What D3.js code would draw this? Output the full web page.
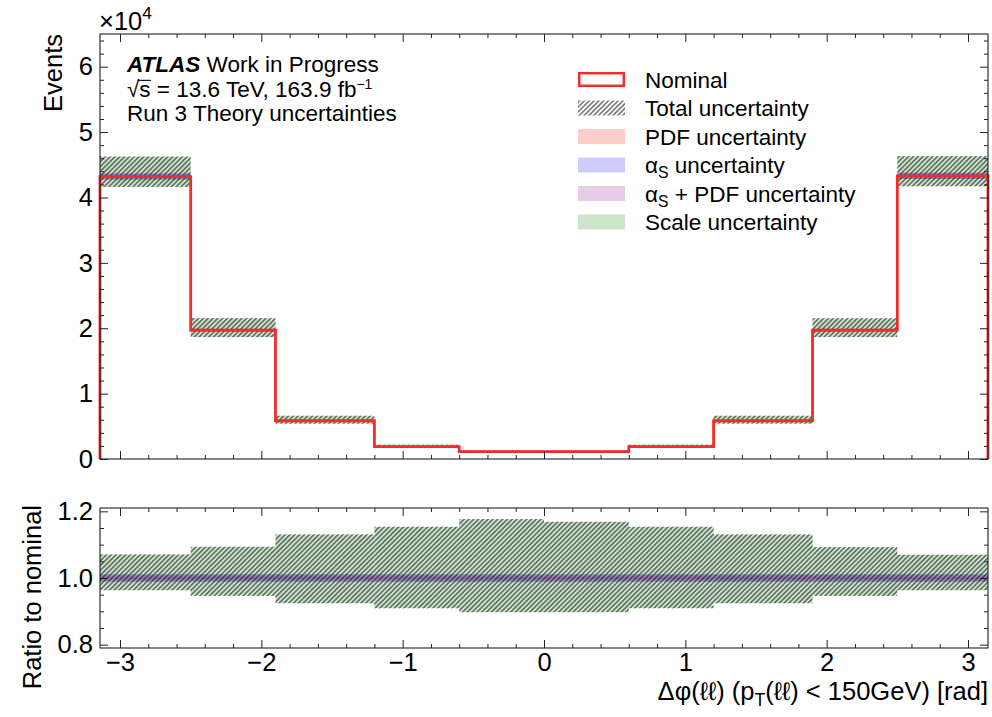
<!DOCTYPE html>
<html>
<head>
<meta charset="utf-8">
<script src="https://cdn.jsdelivr.net/npm/d3@7"></script>
<style>
  body { margin: 0; background: #fff; }
  svg { display: block; }
  text { font-family: "Liberation Sans", Arial, Helvetica, sans-serif; fill: #000; }
</style>
</head>
<body>
<svg id="chart" width="992" height="717"></svg>
<script>
// Δφ(ℓℓ) bin edges [rad]
const binEdges = [-Math.PI, -2.5, -1.9, -1.2, -0.6, 0, 0.6, 1.2, 1.9, 2.5, Math.PI];
// Nominal prediction, events per bin
const nominal = [43200, 19700, 5850, 1900, 1120, 1120, 1900, 5850, 19700, 43300];
// Relative variations (ratio to nominal)
const scaleUp    = [1.070, 1.093, 1.130, 1.153, 1.176, 1.168, 1.153, 1.130, 1.092, 1.069];
const scaleDown  = [0.964, 0.947, 0.925, 0.910, 0.898, 0.898, 0.910, 0.925, 0.947, 0.964];
const totalUp    = [1.071, 1.094, 1.131, 1.154, 1.177, 1.169, 1.154, 1.131, 1.093, 1.070];
const totalDown  = [0.963, 0.946, 0.924, 0.909, 0.897, 0.897, 0.909, 0.924, 0.946, 0.963];
const pdfUp      = [1.004, 1.004, 1.004, 1.004, 1.004, 1.004, 1.004, 1.004, 1.004, 1.004];
const pdfDown    = [0.996, 0.996, 0.996, 0.996, 0.996, 0.996, 0.996, 0.996, 0.996, 0.996];
const alphaSUp   = [1.011, 1.011, 1.011, 1.011, 1.011, 1.011, 1.011, 1.011, 1.011, 1.011];
const alphaSDown = [0.989, 0.989, 0.989, 0.989, 0.989, 0.989, 0.989, 0.989, 0.989, 0.989];
const alphaSPdfUp   = [1.011, 1.011, 1.011, 1.011, 1.011, 1.011, 1.011, 1.011, 1.011, 1.011];
const alphaSPdfDown = [0.989, 0.989, 0.989, 0.989, 0.989, 0.989, 0.989, 0.989, 0.989, 0.989];

const xTickValues = [-3, -2, -1, 0, 1, 2, 3];
const yMainTicks = [0, 10000, 20000, 30000, 40000, 50000, 60000];
const yRatioTicks = [0.8, 1.0, 1.2];
const legendLabels = ["Nominal", "Total uncertainty", "PDF uncertainty", "αS uncertainty", "αS + PDF uncertainty", "Scale uncertainty"];

const colors = {
  nominal: "#f22b2b",
  scale: "rgba(0,128,0,0.2)",
  pdf: "rgba(255,0,0,0.2)",
  alphaS: "rgba(0,0,255,0.2)",
  alphaSPdf: "rgba(128,0,128,0.2)",
  frame: "#222"
};

const svg = d3.select("#chart");
const FS = 22.5;      // legend / label block
const FS_AX = 25.5;   // tick labels and axis titles

// Panel geometry
const left = 100, right = 988;
const mainTop = 34, mainBottom = 459;
const ratTop = 508, ratBottom = 648;

const x = d3.scaleLinear().domain([-Math.PI, Math.PI]).range([left, right]);
const yMain = d3.scaleLinear().domain([0, 65000]).range([mainBottom, mainTop]);
const yRat = d3.scaleLinear().domain([0.79, 1.21]).range([ratBottom, ratTop]);

// Hatch pattern for total uncertainty
const defs = svg.append("defs");
const pat = defs.append("pattern")
  .attr("id", "hatch")
  .attr("patternUnits", "userSpaceOnUse")
  .attr("width", 3.4).attr("height", 3.4)
  .attr("patternTransform", "rotate(45)");
pat.append("line")
  .attr("x1", 1.7).attr("y1", -1).attr("x2", 1.7).attr("y2", 5)
  .attr("stroke", "rgba(0,0,0,0.66)").attr("stroke-width", 1.3);

const bins = nominal.map((n, i) => ({ i, x0: binEdges[i], x1: binEdges[i + 1], n }));

function bandRects(g, y, upArr, dnArr, scaleByNominal, fill) {
  const k = d => (scaleByNominal ? d.n : 1);
  g.selectAll(null).data(bins).join("rect")
    .attr("x", d => x(d.x0))
    .attr("width", d => x(d.x1) - x(d.x0))
    .attr("y", d => y(k(d) * upArr[d.i]))
    .attr("height", d => y(k(d) * dnArr[d.i]) - y(k(d) * upArr[d.i]))
    .attr("fill", fill);
}

function drawBands(g, y, byNominal) {
  bandRects(g, y, scaleUp, scaleDown, byNominal, colors.scale);
  bandRects(g, y, pdfUp, pdfDown, byNominal, colors.pdf);
  bandRects(g, y, alphaSPdfUp, alphaSPdfDown, byNominal, colors.alphaSPdf);
  bandRects(g, y, alphaSUp, alphaSDown, byNominal, colors.alphaS);
  bandRects(g, y, totalUp, totalDown, byNominal, "url(#hatch)");
}

// ---------- main panel ----------
const gMain = svg.append("g");
drawBands(gMain, yMain, true);

// Nominal step histogram
const stepPts = [[binEdges[0], 0]];
bins.forEach(b => { stepPts.push([b.x0, b.n]); stepPts.push([b.x1, b.n]); });
stepPts.push([binEdges[binEdges.length - 1], 0]);
gMain.append("path")
  .attr("d", d3.line().x(d => x(d[0])).y(d => yMain(d[1]))(stepPts))
  .attr("fill", "none")
  .attr("stroke", colors.nominal)
  .attr("stroke-width", 2.8)
  .attr("stroke-linejoin", "miter");

// ---------- ratio panel ----------
const gRat = svg.append("g");
drawBands(gRat, yRat, false);

// ---------- axes ----------
const MAJ = 8, MIN = 4;
function minorRange(lo, hi, step, majors) {
  const out = [];
  for (let k = Math.ceil(lo / step - 1e-9); k * step <= hi + 1e-9; k++) {
    const v = +(k * step).toFixed(6);
    if (!majors.some(m => Math.abs(m - v) < 1e-9)) out.push(v);
  }
  return out;
}
const xMinor = minorRange(-Math.PI, Math.PI, 0.2, xTickValues);
const yMainMinor = minorRange(0, 65000, 2000, yMainTicks);
const yRatMinor = minorRange(0.79, 1.21, 0.05, yRatioTicks);

function styleAxis(g) {
  g.select(".domain").remove();
  g.selectAll(".tick line").attr("stroke", colors.frame).attr("stroke-width", 1);
  g.selectAll(".tick text").attr("font-size", FS_AX).attr("font-family", "Liberation Sans, Arial, sans-serif").attr("fill", "#000");
}

function panelAxes(yScale, top, bottom, yTicks, yMinor, yFmt, showX) {
  const add = (tr, axis) => styleAxis(svg.append("g").attr("transform", tr).call(axis));
  const none = () => "";
  add(`translate(0,${bottom})`, d3.axisBottom(x).tickValues(xTickValues).tickSizeInner(-MAJ).tickSizeOuter(0)
    .tickPadding(showX ? 5 : 0).tickFormat(showX ? d3.format("d") : none));
  add(`translate(0,${bottom})`, d3.axisBottom(x).tickValues(xMinor).tickSizeInner(-MIN).tickSizeOuter(0).tickFormat(none));
  add(`translate(0,${top})`, d3.axisTop(x).tickValues(xTickValues).tickSizeInner(-MAJ).tickSizeOuter(0).tickFormat(none));
  add(`translate(0,${top})`, d3.axisTop(x).tickValues(xMinor).tickSizeInner(-MIN).tickSizeOuter(0).tickFormat(none));
  add(`translate(${left},0)`, d3.axisLeft(yScale).tickValues(yTicks).tickSizeInner(-MAJ).tickSizeOuter(0).tickPadding(7).tickFormat(yFmt));
  add(`translate(${left},0)`, d3.axisLeft(yScale).tickValues(yMinor).tickSizeInner(-MIN).tickSizeOuter(0).tickFormat(none));
  add(`translate(${right},0)`, d3.axisRight(yScale).tickValues(yTicks).tickSizeInner(-MAJ).tickSizeOuter(0).tickFormat(none));
  add(`translate(${right},0)`, d3.axisRight(yScale).tickValues(yMinor).tickSizeInner(-MIN).tickSizeOuter(0).tickFormat(none));
  svg.append("rect").attr("x", left).attr("y", top).attr("width", right - left).attr("height", bottom - top)
    .attr("fill", "none").attr("stroke", colors.frame).attr("stroke-width", 1.1);
}

panelAxes(yMain, mainTop, mainBottom, yMainTicks, yMainMinor, d => d3.format("d")(d / 10000), false);
panelAxes(yRat, ratTop, ratBottom, yRatioTicks, yRatMinor, d3.format(".1f"), true);

// Scale multiplier
const mult = svg.append("text").attr("x", left - 1).attr("y", 30).attr("font-size", FS_AX);
mult.append("tspan").text("×10");
mult.append("tspan").attr("font-size", FS_AX * 0.68).attr("dy", -11).text("4");

// Axis titles
svg.append("text")
  .attr("transform", `translate(62,${mainTop}) rotate(-90)`)
  .attr("text-anchor", "end").attr("font-size", FS_AX).text("Events");
svg.append("text")
  .attr("transform", `translate(41,${ratTop - 3}) rotate(-90)`)
  .attr("text-anchor", "end").attr("font-size", FS_AX).text("Ratio to nominal");

const xl = svg.append("text").attr("x", right).attr("y", 700).attr("text-anchor", "end").attr("font-size", FS_AX);
xl.append("tspan").text("Δφ(ℓℓ) (p");
xl.append("tspan").attr("font-size", FS_AX * 0.7).attr("dy", 6).text("T");
xl.append("tspan").attr("dy", -6).text("(ℓℓ) < 150GeV) [rad]");

// Experiment label block
const lx = 127;
const t1 = svg.append("text").attr("x", lx).attr("y", 72).attr("font-size", FS);
t1.append("tspan").attr("font-weight", "bold").attr("font-style", "italic").text("ATLAS");
t1.append("tspan").text(" Work in Progress");

const t2 = svg.append("text").attr("x", lx).attr("y", 97).attr("font-size", FS);
t2.append("tspan").text("√");
t2.append("tspan").text("s");
t2.append("tspan").text(" =  13.6 TeV, 163.9 fb");
t2.append("tspan").attr("font-size", FS * 0.62).attr("dy", -8).text("−1");
// overbar of the square root
const sqrtW = t2.node().getSubStringLength(0, 1);
const sW = t2.node().getSubStringLength(1, 1);
svg.append("line")
  .attr("x1", lx + sqrtW - 1.5).attr("x2", lx + sqrtW + sW + 0.5)
  .attr("y1", 97 - FS * 0.74).attr("y2", 97 - FS * 0.74)
  .attr("stroke", "#000").attr("stroke-width", 1.1);

svg.append("text").attr("x", lx).attr("y", 121).attr("font-size", FS).text("Run 3 Theory uncertainties");

// ---------- legend ----------
const legX = 578, legW = 47, legH = 15, legTextX = 645, legY0 = 79.5, legDy = 28.5;
const legFills = [null, "url(#hatch)", colors.pdf, colors.alphaS, colors.alphaSPdf, colors.scale];
const leg = svg.append("g");
legendLabels.forEach((lab, i) => {
  const cy = legY0 + i * legDy;
  if (i === 0) {
    leg.append("rect").attr("x", legX + 1.2).attr("y", cy - legH / 2 + 1.2)
      .attr("width", legW - 2.4).attr("height", legH - 2.4)
      .attr("fill", "#fff").attr("stroke", colors.nominal).attr("stroke-width", 2.5);
  } else {
    leg.append("rect").attr("x", legX).attr("y", cy - legH / 2)
      .attr("width", legW).attr("height", legH).attr("fill", legFills[i]);
  }
  const t = leg.append("text").attr("x", legTextX).attr("y", cy + FS * 0.36).attr("font-size", FS);
  if (lab.startsWith("αS")) {
    t.append("tspan").text("α");
    t.append("tspan").attr("font-size", FS * 0.7).attr("dy", 5).text("S");
    t.append("tspan").attr("dy", -5).text(lab.slice(2));
  } else {
    t.text(lab);
  }
});
</script>
</body>
</html>
